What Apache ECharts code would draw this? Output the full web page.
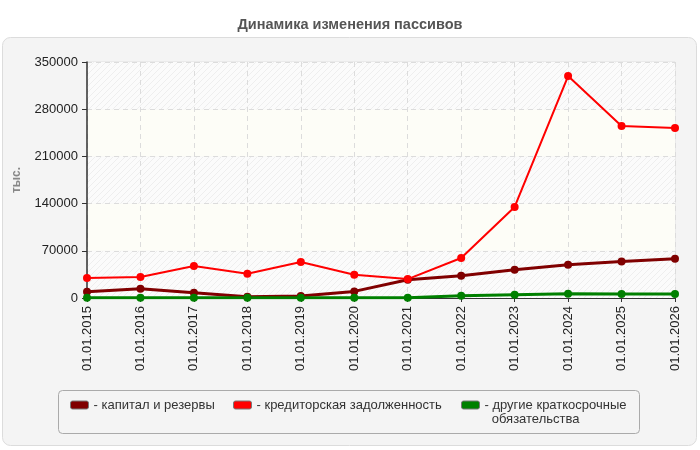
<!DOCTYPE html>
<html><head><meta charset="utf-8">
<script src="https://cdn.jsdelivr.net/npm/echarts@6/dist/echarts.min.js"></script>
<style>html,body{margin:0;padding:0;background:#fff}#c{width:700px;height:450px}</style>
</head><body><div id="c"></div>
<script>
const categories = ['01.01.2015','01.01.2016','01.01.2017','01.01.2018','01.01.2019','01.01.2020','01.01.2021','01.01.2022','01.01.2023','01.01.2024','01.01.2025','01.01.2026'];
const seriesNames = ['капитал и резервы','кредиторская задолженность','другие краткосрочные\nобязательства'];
const capital = [9300, 13800, 7900, 2000, 3000, 9800, 27000, 33000, 42000, 49400, 54300, 58300];
const payables = [29700, 31100, 47500, 36000, 53400, 34600, 28000, 59300, 135000, 329200, 255000, 252000];
const otherShort = [500, 500, 200, 200, 200, 200, 200, 3400, 4900, 6300, 6000, 6000];
const yTicks = [0, 70000, 140000, 210000, 280000, 350000];

function hatch(){
  const c = document.createElement('canvas'); c.width = 6; c.height = 6;
  const g = c.getContext('2d');
  g.fillStyle = '#fbfbfb'; g.fillRect(0,0,6,6);
  g.strokeStyle = '#eeeeee'; g.lineWidth = 1;
  g.beginPath(); g.moveTo(0,6); g.lineTo(6,0); g.moveTo(-3,3); g.lineTo(3,-3); g.moveTo(3,9); g.lineTo(9,3); g.stroke();
  return c;
}
const hatchPat = {image: hatch(), repeat: 'repeat'};

const chart = echarts.init(document.getElementById('c'));
const lineBase = (name, data, color, width) => ({
  name, type: 'line', data, symbol: 'circle', symbolSize: 8,
  lineStyle: {color, width}, itemStyle: {color}, animation: false
});
const legendCommon = {
  top: 398, icon: 'roundRect', itemWidth: 18, itemHeight: 8, itemGap: 4,
  formatter: '- {name}',
  textStyle: {fontSize: 13, color: '#333', fontFamily: 'Liberation Sans, Arial', lineHeight: 14},
  itemStyle: {borderColor: '#777', borderWidth: 1}, selectedMode: false, padding: 0
};
chart.setOption({
  animation: false,
  title: {text: 'Динамика изменения пассивов', left: 'center', top: 12,
    textStyle: {fontSize: 14.5, fontWeight: 'bold', color: '#555', fontFamily: 'Liberation Sans, Arial'}},
  graphic: [
    {type: 'rect', z: -10, shape: {x: 2.5, y: 37.5, width: 694, height: 408, r: 8},
      style: {fill: '#f4f4f4', stroke: '#dcdcdc', lineWidth: 1}},
    {type: 'rect', z: -5, shape: {x: 58.5, y: 390.5, width: 581, height: 43, r: 4},
      style: {fill: 'transparent', stroke: '#aaa', lineWidth: 1}},
    {type: 'rect', z: -6, shape: {x: 87, y: 62, width: 588, height: 236},
      style: {fill: 'transparent', stroke: '#e0e0e0', lineWidth: 1}}
  ],
  legend: [
    Object.assign({}, legendCommon, {left: 70, data: [seriesNames[0]]}),
    Object.assign({}, legendCommon, {left: 233, data: [seriesNames[1]]}),
    Object.assign({}, legendCommon, {left: 461, top: 384, data: [seriesNames[2]],
      formatter: n => ' \n- ' + n.replace('\n', '\n  ')})
  ],
  grid: {left: 87, right: 25, top: 62, bottom: 152},
  xAxis: {
    type: 'category', data: categories, boundaryGap: false,
    axisLine: {lineStyle: {color: '#333', width: 1}},
    axisTick: {show: true, alignWithLabel: true, length: 4, lineStyle: {color: '#333'}},
    axisLabel: {rotate: 90, fontSize: 13, color: '#222', margin: 8, fontFamily: 'Liberation Sans, Arial'},
    splitLine: {show: true, lineStyle: {color: '#dcdcdc', type: [5, 4]}}
  },
  yAxis: {
    type: 'value', min: 0, max: 350000, interval: 70000,
    name: 'тыс.', nameLocation: 'middle', nameGap: 64,
    nameTextStyle: {fontSize: 12, fontWeight: 'bold', color: '#888', fontFamily: 'Liberation Sans, Arial'},
    axisLine: {show: true, lineStyle: {color: '#333', width: 1.5}},
    axisTick: {show: true, length: 5, lineStyle: {color: '#333'}},
    axisLabel: {fontSize: 13, color: '#222', margin: 9, fontFamily: 'Liberation Sans, Arial',
      formatter: v => yTicks.includes(v) ? String(v) : ''},
    splitLine: {show: true, lineStyle: {color: '#dcdcdc', type: [5, 4]}},
    splitArea: {show: true, areaStyle: {color: [hatchPat, '#fdfdf7']}}
  },
  series: [
    lineBase(seriesNames[0], capital, '#800000', 3),
    lineBase(seriesNames[1], payables, '#ff0000', 2),
    lineBase(seriesNames[2], otherShort, '#008000', 3)
  ]
});
</script></body></html>
